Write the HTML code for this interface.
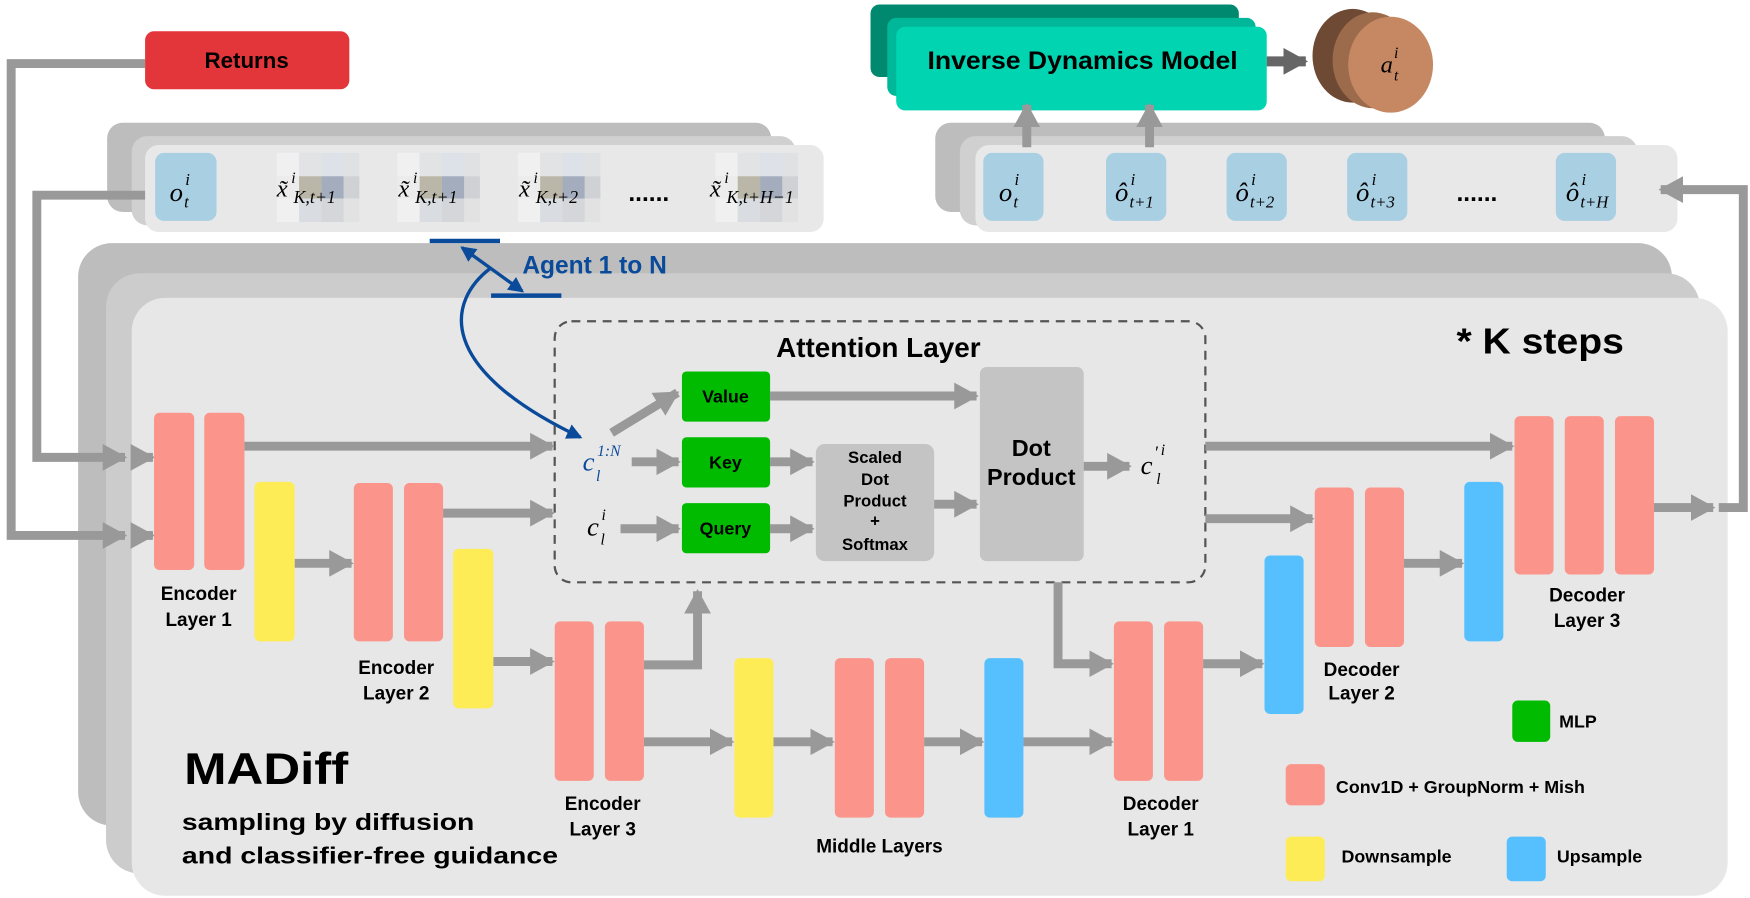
<!DOCTYPE html>
<html><head><meta charset="utf-8"><style>
html,body{margin:0;padding:0;background:#fff;}
svg{display:block;}
.b{font-family:"Liberation Sans",sans-serif;font-weight:bold;fill:#000;}
.m{font-family:"Liberation Serif",serif;font-style:italic;fill:#000;}
</style></head><body>
<svg width="1750" height="898" viewBox="0 0 1568 805" preserveAspectRatio="none" xmlns="http://www.w3.org/2000/svg">
<defs>
<marker id="a" markerUnits="userSpaceOnUse" markerWidth="22" markerHeight="24" refX="20" refY="12" orient="auto"><path d="M0,0 L22,12 L0,24 Z" fill="#999"/></marker>
<marker id="ad" markerUnits="userSpaceOnUse" markerWidth="22" markerHeight="24" refX="20" refY="12" orient="auto"><path d="M0,0 L22,12 L0,24 Z" fill="#666"/></marker>
<marker id="ab" markerUnits="userSpaceOnUse" markerWidth="14" markerHeight="14" refX="12" refY="7" orient="auto"><path d="M0,0 L14,7 L0,14 Z" fill="#0a4a9a"/></marker>
<marker id="abs" markerUnits="userSpaceOnUse" markerWidth="14" markerHeight="14" refX="2" refY="7" orient="auto"><path d="M14,0 L0,7 L14,14 Z" fill="#0a4a9a"/></marker>
<g id="px">
<rect x="0" y="0" width="20" height="21" fill="#f0f0f0"/><rect x="20" y="0" width="20" height="21" fill="#e2e3e5"/><rect x="40" y="0" width="20" height="21" fill="#dde2e8"/><rect x="60" y="0" width="14" height="21" fill="#e0e1e3"/>
<rect x="0" y="21" width="20" height="20" fill="#ececec"/><rect x="20" y="21" width="20" height="20" fill="#bab7a8"/><rect x="40" y="21" width="20" height="20" fill="#a4adbd"/><rect x="60" y="21" width="14" height="20" fill="#d0d1d4"/>
<rect x="0" y="41" width="20" height="21" fill="#f0f0f0"/><rect x="20" y="41" width="20" height="21" fill="#d9dce1"/><rect x="40" y="41" width="20" height="21" fill="#d4d6da"/><rect x="60" y="41" width="14" height="21" fill="#e2e2e2"/>
</g>
</defs>
<rect width="1568" height="805" fill="#fff"/>

<rect x="70" y="218" width="1428" height="522" rx="30" fill="#bdbdbd"/>
<rect x="95" y="245" width="1428" height="538" rx="30" fill="#cccccc"/>
<rect x="118" y="267" width="1430" height="536" rx="30" fill="#e7e7e7"/>

<rect x="96" y="110" width="595" height="80" rx="14" fill="#bdbdbd"/>
<rect x="118" y="122" width="595" height="80" rx="14" fill="#d0d0d0"/>
<rect x="130" y="130" width="608" height="78" rx="12" fill="#e8e8e8"/>
<rect x="139" y="137" width="55" height="61" rx="8" fill="#a9cfe3"/>
<text class="m" x="152" y="180" font-size="24">o</text><text class="m" x="166" y="166" font-size="15">i</text><text class="m" x="165" y="186" font-size="15">t</text>
<use href="#px" x="248" y="137"/><use href="#px" x="356" y="137"/><use href="#px" x="464" y="137"/><use href="#px" x="641" y="137"/>
<g class="m" font-size="22">
<text x="248" y="176">x̃</text><text x="261" y="164" font-size="14">i</text><text x="263" y="182" font-size="16">K,t+1</text>
<text x="357" y="176">x̃</text><text x="370" y="164" font-size="14">i</text><text x="372" y="182" font-size="16">K,t+1</text>
<text x="465" y="176">x̃</text><text x="478" y="164" font-size="14">i</text><text x="480" y="182" font-size="16">K,t+2</text>
<text x="636" y="176">x̃</text><text x="649" y="164" font-size="14">i</text><text x="651" y="182" font-size="16">K,t+H−1</text>
</g>
<text class="b" x="563" y="180" font-size="22">......</text>

<rect x="838" y="110" width="600" height="80" rx="14" fill="#bdbdbd"/>
<rect x="860" y="122" width="607" height="80" rx="14" fill="#d0d0d0"/>
<rect x="874" y="130" width="629" height="78" rx="12" fill="#e8e8e8"/>
<g fill="#a9cfe3">
<rect x="881" y="137" width="54" height="61" rx="8"/><rect x="991" y="137" width="54" height="61" rx="8"/><rect x="1099" y="137" width="54" height="61" rx="8"/><rect x="1207" y="137" width="54" height="61" rx="8"/><rect x="1394" y="137" width="54" height="61" rx="8"/>
</g>
<g class="m">
<text x="895" y="180" font-size="24">o</text><text x="909" y="166" font-size="15">i</text><text x="908" y="186" font-size="15">t</text>
<text x="999" y="180" font-size="24">ô</text><text x="1013" y="166" font-size="15">i</text><text x="1012" y="186" font-size="15">t+1</text>
<text x="1107" y="180" font-size="24">ô</text><text x="1121" y="166" font-size="15">i</text><text x="1120" y="186" font-size="15">t+2</text>
<text x="1215" y="180" font-size="24">ô</text><text x="1229" y="166" font-size="15">i</text><text x="1228" y="186" font-size="15">t+3</text>
<text x="1403" y="180" font-size="24">ô</text><text x="1417" y="166" font-size="15">i</text><text x="1416" y="186" font-size="15">t+H</text>
</g>
<text class="b" x="1305" y="180" font-size="22">......</text>

<rect x="780" y="4" width="330" height="65" rx="8" fill="#00896e"/>
<rect x="795" y="16" width="330" height="70" rx="8" fill="#00b899"/>
<rect x="803" y="24" width="332" height="75" rx="8" fill="#00d4b0"/>
<text class="b" x="970" y="62" font-size="22" text-anchor="middle" textLength="278" lengthAdjust="spacingAndGlyphs">Inverse Dynamics Model</text>
<line x1="1135" y1="55" x2="1170" y2="55" stroke="#666" stroke-width="9" marker-end="url(#ad)"/>
<ellipse cx="1212" cy="50" rx="36" ry="42" fill="#6e4a35"/>
<ellipse cx="1230" cy="54" rx="36" ry="43" fill="#9c6b4b"/>
<ellipse cx="1246" cy="58" rx="38" ry="43" fill="#c68863"/>
<text class="m" x="1237" y="65" font-size="22">a</text><text class="m" x="1249" y="52" font-size="14">i</text><text class="m" x="1249" y="72" font-size="14">t</text>
<line x1="920" y1="132" x2="920" y2="94" stroke="#999" stroke-width="8" marker-end="url(#a)"/>
<line x1="1030" y1="132" x2="1030" y2="94" stroke="#999" stroke-width="8" marker-end="url(#a)"/>

<rect x="130" y="28" width="183" height="52" rx="8" fill="#e3363a"/>
<text class="b" x="221" y="61" font-size="20" text-anchor="middle">Returns</text>

<polyline points="130,57 10,57 10,480 112,480" fill="none" stroke="#999" stroke-width="8" marker-end="url(#a)"/>
<polyline points="130,175 33,175 33,410 112,410" fill="none" stroke="#999" stroke-width="8" marker-end="url(#a)"/>
<line x1="120" y1="480" x2="137" y2="480" stroke="#999" stroke-width="8" marker-end="url(#a)"/>
<line x1="120" y1="410" x2="137" y2="410" stroke="#999" stroke-width="8" marker-end="url(#a)"/>
<polyline points="1540,455 1562,455 1562,170 1488,170" fill="none" stroke="#999" stroke-width="8" marker-end="url(#a)"/>

<line x1="385" y1="216" x2="448" y2="216" stroke="#0a4a9a" stroke-width="4"/>
<line x1="440" y1="265" x2="503" y2="265" stroke="#0a4a9a" stroke-width="4"/>
<line x1="414" y1="222" x2="468" y2="261" stroke="#0a4a9a" stroke-width="3" marker-start="url(#abs)" marker-end="url(#ab)"/>
<path d="M440,240 C400,270 390,330 520,392" fill="none" stroke="#0a4a9a" stroke-width="3" marker-end="url(#ab)"/>
<text class="b" x="468" y="245" font-size="22" style="fill:#0a4a9a">Agent 1 to N</text>

<rect x="497" y="288" width="583" height="234" rx="15" fill="none" stroke="#555" stroke-width="2" stroke-dasharray="8,6"/>
<text class="b" x="787" y="320" font-size="25" text-anchor="middle">Attention Layer</text>
<g fill="#00bb00"><rect x="611" y="333" width="79" height="45" rx="4"/><rect x="611" y="392" width="79" height="45" rx="4"/><rect x="611" y="451" width="79" height="45" rx="4"/></g>
<text class="b" x="650" y="361" font-size="16" text-anchor="middle">Value</text>
<text class="b" x="650" y="420" font-size="16" text-anchor="middle">Key</text>
<text class="b" x="650" y="479" font-size="16" text-anchor="middle">Query</text>
<rect x="731" y="398" width="106" height="105" rx="8" fill="#c4c4c4"/>
<g class="b" font-size="15" text-anchor="middle"><text x="784" y="415">Scaled</text><text x="784" y="435">Dot</text><text x="784" y="454">Product</text><text x="784" y="472">+</text><text x="784" y="493">Softmax</text></g>
<rect x="878" y="329" width="93" height="174" rx="6" fill="#c4c4c4"/>
<text class="b" x="924" y="409" font-size="21" text-anchor="middle">Dot</text>
<text class="b" x="924" y="435" font-size="21" text-anchor="middle">Product</text>
<g class="m"><text x="522" y="422" font-size="24" style="fill:#0a4a9a">c</text><text x="534" y="431" font-size="14" style="fill:#0a4a9a">l</text><text x="535" y="409" font-size="14" style="fill:#0a4a9a">1:N</text></g>
<text class="m" x="526" y="480" font-size="24">c</text><text class="m" x="538" y="488" font-size="14">l</text><text class="m" x="539" y="466" font-size="14">i</text>
<text class="m" x="1022" y="425" font-size="24">c</text><text class="m" x="1034" y="411" font-size="16">′</text><text class="m" x="1040" y="408" font-size="14">i</text><text class="m" x="1036" y="434" font-size="14">l</text>
<g stroke="#999" stroke-width="8" fill="none">
<line x1="548" y1="388" x2="607" y2="352" marker-end="url(#a)"/>
<line x1="566" y1="414" x2="608" y2="414" marker-end="url(#a)"/>
<line x1="556" y1="474" x2="608" y2="474" marker-end="url(#a)"/>
<line x1="690" y1="414" x2="728" y2="414" marker-end="url(#a)"/>
<line x1="690" y1="474" x2="728" y2="474" marker-end="url(#a)"/>
<line x1="690" y1="355" x2="875" y2="355" marker-end="url(#a)"/>
<line x1="837" y1="452" x2="875" y2="452" marker-end="url(#a)"/>
<line x1="971" y1="418" x2="1012" y2="418" marker-end="url(#a)"/>
<line x1="219" y1="400" x2="495" y2="400" marker-end="url(#a)"/>
<line x1="264" y1="505" x2="315" y2="505" marker-end="url(#a)"/>
<line x1="397" y1="460" x2="495" y2="460" marker-end="url(#a)"/>
<line x1="442" y1="593" x2="495" y2="593" marker-end="url(#a)"/>
<polyline points="577,596 625,596 625,530" marker-end="url(#a)"/>
<line x1="577" y1="665" x2="656" y2="665" marker-end="url(#a)"/>
<line x1="693" y1="665" x2="746" y2="665" marker-end="url(#a)"/>
<line x1="828" y1="665" x2="880" y2="665" marker-end="url(#a)"/>
<line x1="917" y1="665" x2="996" y2="665" marker-end="url(#a)"/>
<polyline points="948,522 948,595 996,595" marker-end="url(#a)"/>
<line x1="1078" y1="595" x2="1131" y2="595" marker-end="url(#a)"/>
<line x1="1080" y1="465" x2="1176" y2="465" marker-end="url(#a)"/>
<line x1="1258" y1="505" x2="1310" y2="505" marker-end="url(#a)"/>
<line x1="1080" y1="400" x2="1355" y2="400" marker-end="url(#a)"/>
<line x1="1482" y1="455" x2="1535" y2="455" marker-end="url(#a)"/>
</g>

<g fill="#fb958b">
<rect x="138" y="370" width="36" height="141" rx="5"/><rect x="183" y="370" width="36" height="141" rx="5"/>
<rect x="317" y="433" width="35" height="142" rx="5"/><rect x="362" y="433" width="35" height="142" rx="5"/>
<rect x="497" y="557" width="35" height="143" rx="5"/><rect x="542" y="557" width="35" height="143" rx="5"/>
<rect x="748" y="590" width="35" height="143" rx="5"/><rect x="793" y="590" width="35" height="143" rx="5"/>
<rect x="998" y="557" width="35" height="143" rx="5"/><rect x="1043" y="557" width="35" height="143" rx="5"/>
<rect x="1178" y="437" width="35" height="143" rx="5"/><rect x="1223" y="437" width="35" height="143" rx="5"/>
<rect x="1357" y="373" width="35" height="142" rx="5"/><rect x="1402" y="373" width="35" height="142" rx="5"/><rect x="1447" y="373" width="35" height="142" rx="5"/>
<rect x="1152" y="685" width="35" height="37" rx="5"/>
</g>
<g fill="#feec57">
<rect x="228" y="432" width="36" height="143" rx="5"/><rect x="406" y="492" width="36" height="143" rx="5"/><rect x="658" y="590" width="35" height="143" rx="5"/><rect x="1152" y="750" width="35" height="40" rx="5"/>
</g>
<g fill="#56bffe">
<rect x="882" y="590" width="35" height="143" rx="5"/><rect x="1133" y="498" width="35" height="142" rx="5"/><rect x="1312" y="432" width="35" height="143" rx="5"/><rect x="1350" y="750" width="35" height="40" rx="5"/>
</g>
<rect x="1355" y="628" width="34" height="37" rx="5" fill="#00bb00"/>

<g class="b" font-size="17" text-anchor="middle">
<text x="178" y="538">Encoder</text><text x="178" y="561">Layer 1</text>
<text x="355" y="604">Encoder</text><text x="355" y="627">Layer 2</text>
<text x="540" y="726">Encoder</text><text x="540" y="749">Layer 3</text>
<text x="788" y="764">Middle Layers</text>
<text x="1040" y="726">Decoder</text><text x="1040" y="749">Layer 1</text>
<text x="1220" y="606">Decoder</text><text x="1220" y="627">Layer 2</text>
<text x="1422" y="539">Decoder</text><text x="1422" y="562">Layer 3</text>
</g>
<g class="b" font-size="16">
<text x="1397" y="652">MLP</text>
<text x="1197" y="711">Conv1D + GroupNorm + Mish</text>
<text x="1202" y="773">Downsample</text>
<text x="1395" y="773">Upsample</text>
</g>
<text class="b" x="1305" y="317" font-size="32" textLength="150" lengthAdjust="spacingAndGlyphs">* K steps</text>
<text class="b" x="165" y="703" font-size="40" textLength="147" lengthAdjust="spacingAndGlyphs">MADiff</text>
<text class="b" x="163" y="744" font-size="21" textLength="262" lengthAdjust="spacingAndGlyphs">sampling by diffusion</text>
<text class="b" x="163" y="774" font-size="21" textLength="337" lengthAdjust="spacingAndGlyphs">and classifier-free guidance</text>
</svg>
</body></html>
